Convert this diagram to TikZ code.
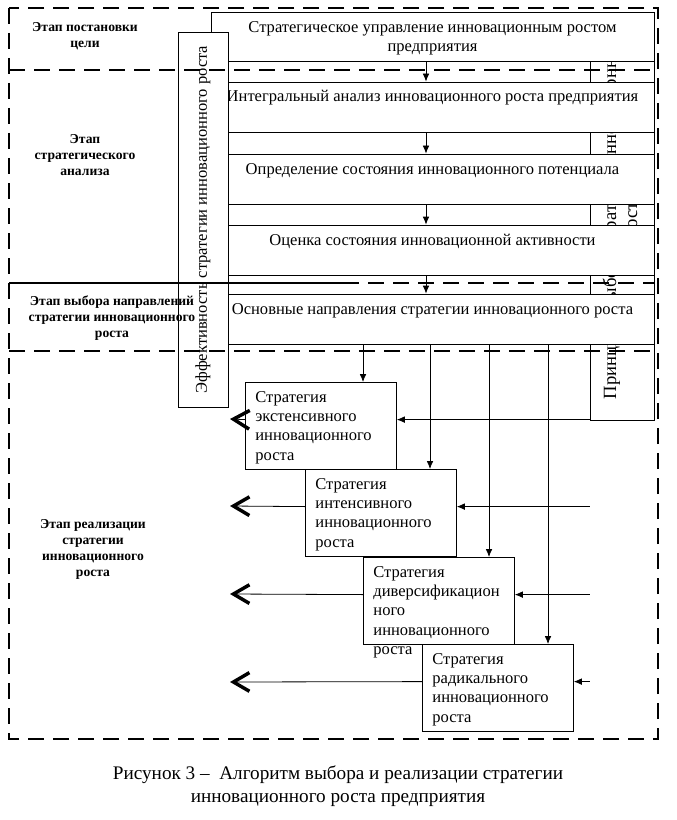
\documentclass[tikz,border=0pt]{standalone}
\usepackage{fontspec}
\setmainfont{Liberation Serif}
\usetikzlibrary{arrows.meta,positioning}
\hyphenpenalty=10000

\tikzset{
  boxbase/.style={draw, fill=white, line width=0.6pt, inner sep=0pt},
  goalbox/.style={boxbase, minimum width=332.25pt, align=center, text height=29.5pt, text depth=7.25pt,
    font=\fontsize{12.4}{14.3}\selectfont},
  stagebox/.style={boxbase, minimum width=332.25pt, text height=15pt, text depth=22.5pt,
    font=\fontsize{12.4}{14.3}\selectfont},
  effbox/.style={boxbase, rotate=90, minimum width=281.25pt, minimum height=37.5pt,
    font=\fontsize{12.4}{14.3}\selectfont},
  princbox/.style={boxbase, rotate=90, minimum width=306pt, minimum height=48pt, align=center,
    font=\fontsize{14}{15.75}\selectfont},
  stratbox/.style={boxbase, anchor=north west, align=left, inner xsep=7.5pt, text width=98.25pt,
    text height=15pt, text depth=50.6pt, font=\fontsize{12.4}{14.4}\selectfont},
  stagelabel/.style={align=center, font=\fontsize{10.2}{12}\selectfont\bfseries},
  arr/.style={line width=0.6pt, -{Latex[length=6pt,width=5pt]}},
  outarr/.style={line width=0.6pt, -{Straight Barb[length=12pt,width=14pt,line width=2.6pt]}},
  stageline/.style={line width=1.5pt, dash pattern=on 12pt off 6.75pt}
}

\begin{document}
\begin{tikzpicture}[x=0.75pt,y=-0.75pt]
  % \draw[help lines] (0,0) grid[step=50] (676,820);
  \useasboundingbox (0,0) rectangle (676,820);

  \node[princbox] (princ) at (622,216) {Принципы выбора стратегии инновационного\\роста};

  \node[goalbox] (goal) at (432.5,36.5) {Стратегическое управление инновационным ростом\\предприятия};
  \node[stagebox] (integ) at (432.5,107) {Интегральный анализ инновационного роста предприятия};
  \node[stagebox] (potent) at (432.5,179) {Определение состояния инновационного потенциала};
  \node[stagebox] (activ) at (432.5,250) {Оценка состояния инновационной активности};
  \node[stagebox] (dirs) at (432.5,319) {Основные направления стратегии инновационного роста};

  \node[effbox] (eff) at (203,219.5) {Эффективность стратегии инновационного роста};

  \coordinate (axis) at (426,0);
  \draw[arr] (goal.south -| axis) -- (integ.north -| axis);
  \draw[arr] (integ.south -| axis) -- (potent.north -| axis);
  \draw[arr] (potent.south -| axis) -- (activ.north -| axis);
  \draw[arr] (activ.south -| axis) -- (dirs.north -| axis);

  \node[stratbox] (s1) at (245,382) {Стратегия\\экстенсивного\\инновационного\\роста};
  \node[stratbox] (s2) at (305,469) {Стратегия\\интенсивного\\инновационного\\роста};
  \node[stratbox] (s3) at (363,557) {Стратегия\\диверсификацион\\ного\\инновационного\\роста};
  \node[stratbox] (s4) at (422,644) {Стратегия\\радикального\\инновационного\\роста};

  \coordinate (v1) at (363,0);
  \coordinate (v2) at (430,0);
  \coordinate (v3) at (489,0);
  \coordinate (v4) at (548,0);
  \draw[arr] (dirs.south -| v1) -- (s1.north -| v1);
  \draw[arr] (dirs.south -| v2) -- (s2.north -| v2);
  \draw[arr] (dirs.south -| v3) -- (s3.north -| v3);
  \draw[arr] (dirs.south -| v4) -- (s4.north -| v4);

  \foreach \s in {s1,s2,s3,s4}
    \draw[arr] ([yshift=4.9pt]\s.east -| princ.north) -- ([yshift=4.9pt]\s.east);

  \coordinate (out1) at (230,419);
  \coordinate (out2) at (230,506);
  \coordinate (out3) at (230,594);
  \coordinate (out4) at (230,682);
  \draw[outarr] ([yshift=4.9pt]s1.west) -- (out1);
  \draw[outarr] ([yshift=4.9pt]s2.west) -- (out2);
  \draw[outarr] ([yshift=4.9pt]s3.west) -- (out3);
  \draw[outarr] ([yshift=4.9pt]s4.west) -- (out4);

  % stage borders
  \draw[stageline] (9,8) rectangle (658,739);
  \draw[stageline] (9,70) -- (658,70);
  \draw[line width=1.5pt] (9,283) -- (343,283);
  \draw[stageline] (343,283) -- (655,283);
  \draw[stageline] (9,351) -- (658,351);

  \node[stagelabel] (goallab) at (85,36) {Этап постановки\\цели};
  \node[stagelabel] (analab) at (85,155) {Этап\\стратегического\\анализа};
  \node[stagelabel] (choicelab) at (112,318) {Этап выбора направлений\\стратегии инновационного\\роста};
  \node[stagelabel] (reallab) at (93,549) {Этап реализации\\стратегии\\инновационного\\роста};

  \node[align=center, font=\fontsize{14.4}{17.2}\selectfont] (caption) at (338,786.5)
    {Рисунок 3 --\ \ Алгоритм выбора и реализации стратегии\\инновационного роста предприятия};
\end{tikzpicture}
\end{document}
